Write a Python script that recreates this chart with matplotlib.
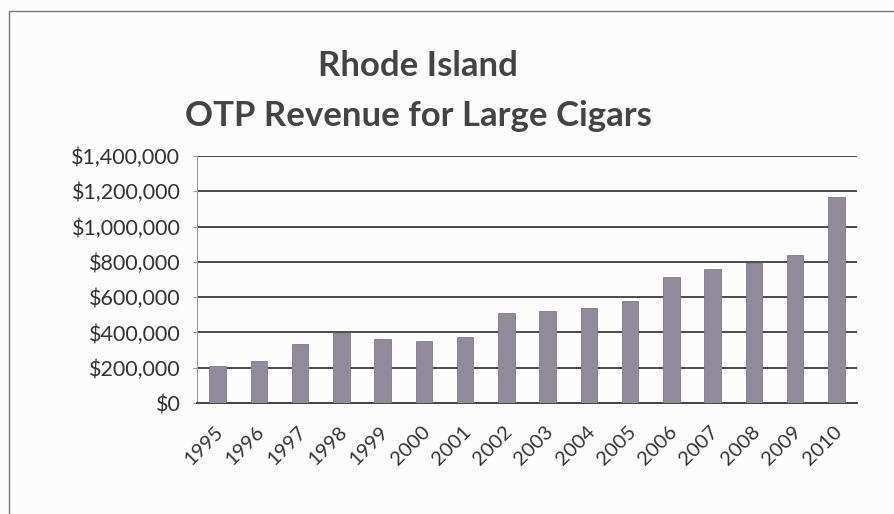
import matplotlib.pyplot as plt
import matplotlib.ticker as mticker
import matplotlib.transforms as mtransforms
from matplotlib.patches import Rectangle

years = [str(y) for y in range(1995, 2011)]
revenue = [211000, 240000, 333000, 398000, 361000, 353000, 372000, 512000,
           523000, 536000, 580000, 716000, 761000, 795000, 838000, 1165000]

FONT = "Lato"
TEXT = "#333333"

fig = plt.figure(figsize=(8.94, 5.14), dpi=100)
fig.patch.set_facecolor("#fcfcfc")

# chart frame (only top/left visible in the scan)
fig.patches.append(Rectangle((9 / 894, -0.05), 1.2, 1 - 11 / 514 + 0.05,
                             transform=fig.transFigure, fill=False,
                             edgecolor="#777777", linewidth=1.0))

ax = fig.add_axes([197 / 894, 1 - 403 / 514, 660 / 894, 247 / 514])
ax.set_facecolor("none")

x = list(range(len(years)))
ax.bar(x, revenue, width=0.4, color="#8f8b9a", edgecolor="#7d7a88",
       linewidth=0.6, zorder=3)

ax.set_xlim(-0.5, len(years) - 0.5)
ax.set_ylim(0, 1400000)
ax.yaxis.set_major_locator(mticker.MultipleLocator(200000))
ax.yaxis.set_major_formatter(mticker.FuncFormatter(lambda v, p: f"${v:,.0f}"))
ax.grid(axis="y", color="#4a4a4a", linewidth=1.4, zorder=0)

# year labels, rotated like Excel: top-right end just below each bar
ax.set_xticks(x)
ax.set_xticklabels([])
offset = mtransforms.ScaledTranslation(-3 / 100, -20 / 100, fig.dpi_scale_trans)
for xi, yr in zip(x, years):
    ax.text(xi, 0, yr, transform=ax.get_xaxis_transform() + offset,
            rotation=45, rotation_mode="anchor", ha="right", va="top",
            fontsize=14.5, family=FONT, color=TEXT)

for lab in ax.get_yticklabels():
    lab.set_family(FONT)
    lab.set_fontsize(15.5)
    lab.set_color(TEXT)

ax.tick_params(axis="x", length=0)
ax.tick_params(axis="y", length=3, color="#999999", pad=9)

for side in ["top", "right"]:
    ax.spines[side].set_visible(False)
ax.spines["left"].set_color("#999999")
ax.spines["left"].set_linewidth(0.8)
ax.spines["bottom"].set_color("#444444")
ax.spines["bottom"].set_linewidth(1.4)

fig.text(418 / 894, 1 - 66 / 514, "Rhode Island", ha="center", va="center",
         fontsize=25, fontweight="bold", family=FONT, color="#444444")
fig.text(418 / 894, 1 - 116 / 514, "OTP Revenue for Large Cigars", ha="center",
         va="center", fontsize=25, fontweight="bold", family=FONT, color="#444444")

fig.savefig("out.png", dpi=100, facecolor=fig.get_facecolor())
